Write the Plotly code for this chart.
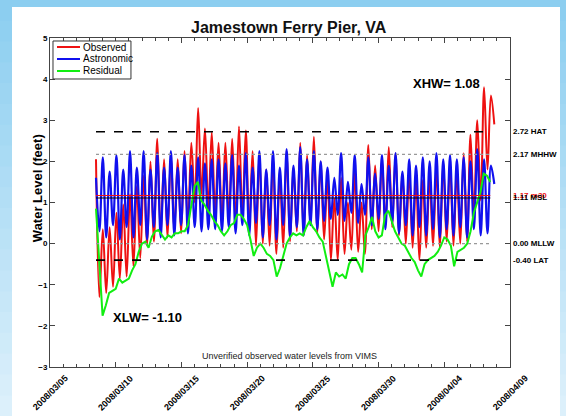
import plotly.graph_objects as go
import pandas as pd

# ---------------- data ----------------
# tide extremes: highs and lows alternate, every ~6.2 h starting 2008-03-08 12:00
astro_high = [1.60, 2.10, 1.75, 2.15, 1.80, 2.25, 1.85, 2.25, 1.80, 2.20,
              1.85, 2.25, 1.85, 2.15, 1.90, 2.10, 1.95, 2.05, 2.05, 1.95,
              2.15, 1.90, 2.20, 1.85, 2.25, 1.80, 2.25, 1.85, 2.30, 1.90,
              2.35, 2.05, 2.25, 2.00, 1.85, 1.60, 2.20, 1.50, 2.15, 1.45,
              2.10, 1.70, 2.15, 1.90, 2.20, 1.75, 2.05, 1.90, 2.10, 2.00,
              2.20, 2.05, 2.15, 2.05, 2.10, 2.00, 2.30, 2.05, 1.90]
astro_low = [0.30, 0.15, 0.45, 0.10, 0.40, 0.15, 0.45, 0.10, 0.40, 0.15,
             0.45, 0.20, 0.45, 0.25, 0.40, 0.30, 0.35, 0.35, 0.30, 0.40,
             0.25, 0.45, 0.20, 0.50, 0.15, 0.45, 0.10, 0.45, 0.15, 0.40,
             0.20, 0.45, 0.35, 0.55, 0.60, 0.70, 0.55, 0.75, 0.50, 0.70,
             0.45, 0.60, 0.35, 0.50, 0.25, 0.45, 0.20, 0.40, 0.20, 0.35,
             0.15, 0.35, 0.20, 0.40, 0.15, 0.35, 0.20, 0.25, 1.45]
obs_high = [2.05, 0.35, 0.40, 0.75, 0.95, 1.20, 1.40, 1.65, 2.00, 2.55,
            2.05, 2.15, 2.05, 2.25, 2.45, 3.30, 2.80, 2.70, 2.45, 2.45,
            2.55, 2.85, 2.75, 2.25, 2.20, 1.80, 2.15, 1.75, 2.25, 1.85,
            2.45, 2.15, 2.60, 2.00, 1.60, 1.10, 1.60, 1.00, 1.75, 1.00,
            2.40, 1.90, 2.05, 2.35, 2.20, 1.70, 1.75, 1.55, 1.55, 1.60,
            1.80, 1.95, 2.00, 1.75, 2.20, 2.65, 3.00, 3.80, 3.60]
obs_low = [-1.30, -1.20, -1.05, -0.85, -0.80, -0.55, -0.35, -0.05, 0.05, 0.20,
           0.15, 0.30, 0.25, 0.45, 1.00, 1.20, 0.85, 0.75, 0.50, 0.60,
           0.55, 0.65, 0.35, -0.05, 0.00, -0.05, -0.25, -0.10, 0.05, 0.30,
           0.20, 0.45, 0.25, 0.10, -0.40, -0.40, -0.25, -0.15, -0.20, -0.25,
           0.35, 0.30, 0.45, 0.40, 0.20, 0.00, -0.10, -0.40, -0.10, -0.05,
           -0.10, 0.05, -0.05, 0.00, 0.05, 0.65, 1.05, 1.80, 2.90]
# residual, every 6 h starting 2008-03-08 12:00
resid = [0.85, -0.60, -1.75, -1.50, -1.20, -1.15, -1.10, -0.85, -0.95, -0.90,
         -0.85, -0.65, -0.50, -0.20, 0.00, 0.05, -0.10, 0.17, 0.30, 0.33,
         0.20, 0.10, 0.20, 0.15, 0.25, 0.25, 0.30, 0.30, 0.45, 0.95,
         1.40, 1.50, 1.05, 0.95, 0.80, 0.70, 0.55, 0.45, 0.30, 0.20,
         0.30, 0.45, 0.50, 0.70, 0.70, 0.60, 0.45, 0.10, -0.30, -0.10,
         0.00, -0.10, -0.25, -0.30, -0.40, -0.80, -0.60, -0.30, 0.00, 0.15,
         0.25, 0.20, 0.25, 0.20, 0.40, 0.55, 0.40, 0.30, 0.15, 0.05,
         -0.30, -0.70, -1.05, -0.70, -0.80, -0.75, -0.85, -0.50, -0.35, -0.35,
         -0.50, -0.70, 0.20, 0.40, 0.65, 0.30, 0.15, 0.20, 0.70, 0.80,
         0.55, 0.30, 0.15, 0.00, -0.05, -0.20, -0.35, -0.45, -0.65, -0.80,
         -0.50, -0.40, -0.35, -0.30, -0.20, -0.05, 0.15, 0.10, -0.05, -0.55,
         -0.20, -0.15, -0.10, 0.00, 0.30, 0.75, 1.00, 1.25, 1.70, 1.65, 1.50]

series_names = ["Observed", "Astronomic", "Residual"]
series_colors = ["#ee1111", "#1010ee", "#11ee11"]

level_vals = [2.72, 2.17, 1.17, 1.11, 0.00, -0.40]
level_labels = ["2.72 HAT", "2.17 MHHW", "1.17 m30", "1.11 MSL", "0.00 MLLW", "-0.40 LAT"]
level_colors = ["black", "#999999", "#ee1111", "black", "#999999", "black"]
level_dash = ["dash", "dot", "solid", "solid", "dot", "dash"]
label_colors = ["black", "black", "#ee1111", "black", "black", "black"]

date_labels = ["2008/03/05", "2008/03/10", "2008/03/15", "2008/03/20",
               "2008/03/25", "2008/03/30", "2008/04/04", "2008/04/09"]

# ---------------- build series ----------------
tide_times = pd.date_range("2008-03-08 12:00", periods=2 * len(astro_high), freq="373min")
resid_times = pd.date_range("2008-03-08 12:00", periods=len(resid), freq="6h")

astro = []
obs = []
for h, l in zip(astro_high, astro_low):
    astro += [h, l]
for h, l in zip(obs_high, obs_low):
    obs += [h, l]

FONT = "Liberation Sans, Arial, sans-serif"

fig = go.Figure()
fig.add_trace(go.Scatter(x=tide_times, y=obs, mode="lines", name=series_names[0],
                         line=dict(color=series_colors[0], width=2, shape="spline", smoothing=1.0)))
fig.add_trace(go.Scatter(x=tide_times, y=astro, mode="lines", name=series_names[1],
                         line=dict(color=series_colors[1], width=2.2, shape="spline", smoothing=1.0)))
fig.add_trace(go.Scatter(x=resid_times, y=resid, mode="lines", name=series_names[2],
                         line=dict(color=series_colors[2], width=2)))

# ---------------- background: blue gradient frame + white panel ----------------
shapes = []
nb = 20
top = (0x8c, 0xce, 0xf0)
bot = (0xdc, 0xf0, 0xfb)
for i in range(nb):
    f = i / (nb - 1)
    c = tuple(int(round(top[k] + (bot[k] - top[k]) * f)) for k in range(3))
    y_hi = 1.1155 - (1.2644 * i / nb)
    y_lo = 1.1155 - (1.2644 * (i + 1) / nb) - 0.002
    shapes.append(dict(type="rect", xref="paper", yref="paper", x0=-0.11, x1=1.125,
                       y0=y_lo, y1=y_hi, fillcolor="rgb(%d,%d,%d)" % c,
                       line=dict(width=0), layer="below"))
shapes.append(dict(type="rect", xref="paper", yref="paper", x0=-0.0826, x1=1.1087,
                   y0=-0.16, y1=1.0942, fillcolor="white", line=dict(width=0), layer="below"))

# reference levels
for v, c, d in zip(level_vals, level_colors, level_dash):
    shapes.append(dict(type="line", xref="x", yref="y", x0=resid_times[0], x1=resid_times[-1],
                       y0=v, y1=v, line=dict(color=c, width=1.6 if d == "dash" else 1.2, dash=d),
                       layer="above"))

# legend box (drawn by hand to match the compact original)
shapes.append(dict(type="rect", xref="paper", yref="paper", x0=0.0065, x1=0.176,
                   y0=0.8754, y1=0.9909, fillcolor="white",
                   line=dict(color="#333333", width=1), layer="above"))
leg_y = [0.9726, 0.9362, 0.8997]
annotations = []
for name, col, ly in zip(series_names, series_colors, leg_y):
    shapes.append(dict(type="line", xref="paper", yref="paper", x0=0.0152, x1=0.0652,
                       y0=ly, y1=ly, line=dict(color=col, width=2), layer="above"))
    annotations.append(dict(xref="paper", yref="paper", x=0.0665, y=ly, text=name,
                            showarrow=False, xanchor="left", yanchor="middle",
                            font=dict(family=FONT, size=10, color="black")))

for v, t, c in zip(level_vals, level_labels, label_colors):
    annotations.append(dict(xref="paper", yref="y", x=1.002, y=v, text=t, showarrow=False,
                            xanchor="left", yanchor="middle",
                            font=dict(family=FONT, size=8, color=c, weight="bold")))

for lab in date_labels:
    annotations.append(dict(xref="x", yref="paper", x=pd.Timestamp(lab.replace("/", "-")),
                            y=-0.079, text=lab, showarrow=False, textangle=-45,
                            xanchor="center", yanchor="middle",
                            font=dict(family=FONT, size=9, color="black", weight="bold")))

annotations += [
    dict(xref="paper", yref="paper", x=-0.028, y=0.544, text="Water Level (feet)",
         showarrow=False, textangle=-90, xanchor="center", yanchor="middle",
         font=dict(family=FONT, size=13, color="black", weight="bold")),
    dict(xref="paper", yref="paper", x=0.52, y=0.033,
         text="Unverified observed water levels from VIMS", showarrow=False,
         xanchor="center", yanchor="middle", font=dict(family=FONT, size=9, color="#222222")),
    dict(xref="paper", yref="paper", x=0.863, y=0.863, text="XHW= 1.08", showarrow=False,
         xanchor="center", yanchor="middle",
         font=dict(family=FONT, size=13, color="black", weight="bold")),
    dict(xref="paper", yref="paper", x=0.213, y=0.149, text="XLW= -1.10", showarrow=False,
         xanchor="center", yanchor="middle",
         font=dict(family=FONT, size=13, color="black", weight="bold")),
]

fig.update_layout(
    width=566, height=416,
    margin=dict(l=50, r=56, t=38, b=49),
    paper_bgcolor="#b8e2f6",
    plot_bgcolor="white",
    title=dict(text="Jamestown Ferry Pier, VA", x=0.51, xref="container", y=0.935,
               yref="container", xanchor="center", yanchor="middle",
               font=dict(family=FONT, size=16, color="#111111", weight="bold")),
    showlegend=False,
    shapes=shapes,
    annotations=annotations,
)

fig.update_xaxes(type="date", range=["2008-03-05", "2008-04-09"], showgrid=False, zeroline=False,
                 showline=True, linecolor="#444444", linewidth=1, mirror="ticks",
                 ticks="inside", ticklen=5, tickcolor="#444444",
                 tick0="2008-03-05", dtick=5 * 86400000, showticklabels=False,
                 minor=dict(ticks="inside", ticklen=3, dtick=86400000, tickcolor="#444444",
                            showgrid=False))
fig.update_yaxes(range=[-3, 5], dtick=1, showgrid=False, zeroline=False,
                 showline=True, linecolor="#444444", linewidth=1, mirror="ticks",
                 ticks="inside", ticklen=5, tickcolor="#444444",
                 tickfont=dict(family=FONT, size=8, color="black", weight="bold"))

fig.write_html("out.html", config={"displayModeBar": False},
               post_script="document.body.style.margin='0px';document.body.style.overflow='hidden';")
